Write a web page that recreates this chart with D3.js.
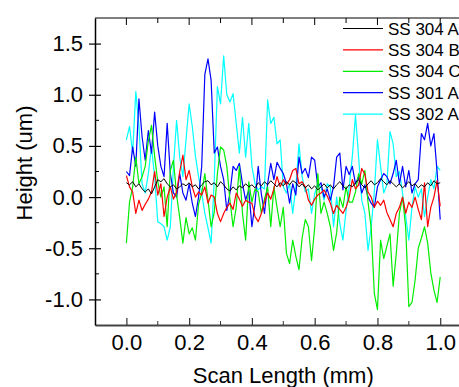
<!DOCTYPE html>
<html>
<head>
<meta charset="utf-8">
<script src="https://cdn.jsdelivr.net/npm/d3@7"></script>
<style>
  html, body { margin: 0; padding: 0; background: white; overflow: hidden; }
  svg { display: block; font-family: 'Liberation Sans', Arial, sans-serif; }
</style>
</head>
<body>
<script>
const seriesNames = ['SS 304 A', 'SS 304 B', 'SS 304 C', 'SS 301 A', 'SS 302 A'];
const seriesColors = ['#000000', '#ff0000', '#00ee00', '#0000ff', '#00ffff'];

// sample positions along the scan (mm), one every 0.01
const scanLength = d3.range(101).map((i) => i / 100);

const ss304A = [
  0.14, 0.12, 0.15, 0.10, 0.13, 0.08, 0.05, 0.08, 0.03, 0.10,
  0.17, 0.15, 0.18, 0.13, 0.10, 0.12, 0.08, 0.10, 0.13, 0.11,
  0.14, 0.10, 0.12, 0.08, 0.12, 0.15, 0.16, 0.12, 0.14, 0.10,
  0.15, 0.12, 0.08, 0.06, 0.10, 0.07, 0.11, 0.09, 0.13, 0.10,
  0.12, 0.09, 0.14, 0.11, 0.15, 0.12, 0.16, 0.13, 0.10, 0.14,
  0.11, 0.15, 0.12, 0.16, 0.14, 0.10, 0.13, 0.09, 0.12, 0.08,
  0.11, 0.07, 0.10, 0.13, 0.09, 0.12, 0.08, 0.12, 0.15, 0.11,
  0.08, 0.12, 0.10, 0.14, 0.17, 0.12, 0.09, 0.13, 0.16, 0.12,
  0.14, 0.18, 0.15, 0.12, 0.16, 0.13, 0.10, 0.13, 0.09, 0.12,
  0.15, 0.11, 0.13, 0.09, 0.12, 0.10, 0.14, 0.11, 0.16, 0.13,
  0.14,
];
const ss304B = [
  0.21, 0.10, 0.05, -0.16, -0.03, -0.13, -0.07, -0.02, 0.05, 0.25,
  0.02, 0.13, -0.19, 0.00, 0.10, -0.02, 0.05, 0.25, 0.41, 0.17,
  0.26, 0.10, 0.00, 0.05, 0.02, 0.10, -0.06, 0.02, 0.00, -0.16,
  -0.24, -0.16, -0.10, -0.06, -0.12, 0.04, -0.02, -0.09, -0.03, -0.05,
  -0.06, -0.19, -0.24, -0.16, -0.05, 0.04, -0.02, 0.08, 0.20, 0.10,
  0.17, 0.12, 0.17, 0.26, 0.28, 0.13, 0.15, 0.10, -0.03, -0.08,
  -0.02, 0.02, 0.04, 0.07, 0.01, -0.06, -0.16, -0.08, -0.12, -0.16,
  -0.10, 0.00, 0.17, 0.08, 0.12, 0.28, 0.22, 0.05, 0.00, -0.10,
  -0.04, -0.08, -0.03, -0.15, -0.22, -0.29, -0.16, -0.10, 0.00, -0.16,
  -0.05, -0.10, 0.00, -0.12, -0.22, 0.14, -0.29, -0.10, 0.00, 0.16,
  -0.09,
];
const ss304C = [
  -0.45, -0.05, 0.10, 0.39, 0.13, 0.20, 0.30, 0.55, 0.70, 0.40,
  0.15, 0.00, 0.10, -0.29, 0.26, 0.36, 0.02, -0.20, -0.45, -0.20,
  -0.36, -0.30, -0.42, -0.07, 0.04, 0.23, -0.03, -0.29, -0.15, 0.23,
  0.49, 0.46, 0.30, -0.03, -0.29, -0.10, 0.30, -0.16, -0.42, 0.15,
  -0.05, 0.08, 0.05, -0.16, -0.02, 0.10, -0.29, 0.10, -0.10, -0.29,
  -0.10, -0.55, -0.65, -0.42, -0.58, -0.71, -0.40, -0.22, -0.29, -0.62,
  -0.30, 0.23, -0.16, -0.05, -0.16, -0.29, -0.52, -0.35, 0.00, -0.10,
  0.10, -0.05, -0.05, 0.05, 0.23, 0.13, 0.26, -0.05, -0.30, -0.94,
  -1.10, -0.42, -0.60, -0.48, -0.36, -0.87, -0.55, -0.16, 0.00, -0.30,
  -1.07, -1.03, -0.81, -0.50, -0.40, -0.29, -0.45, -0.74, -0.91, -1.03,
  -0.78,
];
const ss301A = [
  0.25, 0.21, 0.49, 0.30, 0.96, 0.59, 0.36, 0.65, 0.43, 0.83,
  0.50, 0.30, 0.20, 0.72, 0.23, 0.04, 0.00, 0.23, 0.04, -0.03,
  0.13, -0.06, -0.19, 0.00, 0.30, 1.20, 1.35, 1.14, 0.43, 0.49,
  0.30, 0.17, -0.13, 0.04, 0.30, 0.26, 0.33, 0.13, -0.03, 0.07,
  -0.29, -0.06, 0.30, 0.03, -0.16, 0.13, 0.33, 0.17, 0.34, 0.28,
  0.23, 0.13, -0.06, 0.13, 0.02, 0.39, 0.23, 0.28, 0.19, 0.39,
  0.36, 0.10, 0.14, 0.00, 0.08, -0.03, 0.10, 0.39, 0.43, 0.07,
  0.30, 0.22, 0.30, 0.13, 0.20, 0.04, 0.12, 0.00, -0.06, -0.10,
  0.10, 0.17, 0.23, 0.20, 0.13, 0.23, 0.36, 0.13, 0.30, 0.10,
  0.26, 0.04, 0.13, 0.17, 0.62, 0.56, 0.72, 0.50, 0.62, 0.25,
  -0.22,
];
const ss302A = [
  0.56, 0.69, 0.43, 1.03, 0.70, 0.13, 0.04, 0.23, 0.49, 0.20,
  -0.24, -0.26, -0.29, -0.42, -0.29, 0.30, 0.75, 0.39, 0.20, 0.56,
  0.91, 0.69, 0.40, 0.20, 0.04, -0.16, -0.30, -0.45, 0.17, 1.08,
  0.91, 1.38, 1.00, 0.93, 1.01, 0.72, 0.43, 0.78, 0.39, 0.72,
  0.30, 0.13, 0.07, 0.10, 0.08, 0.95, 0.72, 0.78, 0.52, 0.56,
  0.10, 0.04, 0.13, -0.16, 0.10, 0.52, 0.20, 0.05, 0.08, -0.16,
  0.03, 0.13, 0.10, -0.03, 0.13, 0.10, -0.29, 0.00, -0.26, -0.42,
  -0.13, 0.10, 0.40, 0.80, 0.39, -0.03, -0.16, -0.52, -0.29, 0.05,
  0.56, 0.30, 0.04, 0.12, 0.64, 0.52, 0.20, 0.25, 0.04, -0.19,
  -0.42, -0.10, 0.10, 0.00, 0.08, -0.19, 0.00, 0.17, 0.08, 0.30,
  0.26,
];
const seriesValues = [ss304A, ss304B, ss304C, ss301A, ss302A];

const xMajorTicks = [0.0, 0.2, 0.4, 0.6, 0.8, 1.0];
const xMinorTicks = [0.1, 0.3, 0.5, 0.7, 0.9];
const yMajorTicks = [-1.0, -0.5, 0.0, 0.5, 1.0, 1.5];
const yMinorTicks = [-0.75, -0.25, 0.25, 0.75, 1.25];

const width = 459;
const height = 387;
const margin = { top: 18, left: 95, bottom: 62 };
const plotRight = 471.6;

const x = d3.scaleLinear().domain([-0.1, 1.1]).range([margin.left, plotRight]);
const y = d3.scaleLinear().domain([-1.25, 1.75]).range([height - margin.bottom, margin.top]);

const svg = d3.select('body').append('svg')
  .attr('width', width)
  .attr('height', height)
  .attr('viewBox', [0, 0, width, height]);

svg.append('rect')
  .attr('width', width)
  .attr('height', height)
  .attr('fill', 'white');

const line = d3.line()
  .x((d, i) => x(scanLength[i]))
  .y((d) => y(d));

// drawn back to front so the flat reference trace stays visible
svg.append('g')
  .attr('fill', 'none')
  .selectAll('path')
  .data(d3.range(seriesValues.length).reverse())
  .join('path')
  .attr('d', (k) => line(seriesValues[k]))
  .attr('stroke', (k) => seriesColors[k])
  .attr('stroke-width', (k) => k === 0 ? 1 : 1.2)
  .attr('stroke-linejoin', 'round');

// top frame line with inward ticks
svg.append('line')
  .attr('x1', margin.left)
  .attr('x2', plotRight)
  .attr('y1', margin.top)
  .attr('y2', margin.top)
  .attr('stroke', 'black')
  .attr('stroke-width', 1.2);

svg.append('g')
  .attr('stroke', 'black')
  .selectAll('line')
  .data(xMajorTicks.concat(xMinorTicks))
  .join('line')
  .attr('x1', (d) => x(d))
  .attr('x2', (d) => x(d))
  .attr('y1', margin.top)
  .attr('y2', (d) => margin.top + (xMajorTicks.includes(d) ? 7 : 5));

// bottom axis
const xAxis = svg.append('g')
  .attr('transform', `translate(0,${y.range()[0]})`)
  .call(d3.axisBottom(x).tickValues(xMajorTicks).tickSize(-7).tickSizeOuter(0).tickPadding(9)
    .tickFormat(d3.format('.1f')));

xAxis.select('.domain').attr('stroke', '#444').attr('stroke-width', 2);
xAxis.selectAll('.tick line').attr('stroke', '#333').attr('stroke-width', 1.2);
xAxis.selectAll('text').attr('font-size', 22).attr('fill', 'black')
  .attr('font-family', "'Liberation Sans', Arial, sans-serif");

svg.append('g')
  .attr('stroke', '#333')
  .selectAll('line')
  .data(xMinorTicks)
  .join('line')
  .attr('x1', (d) => x(d))
  .attr('x2', (d) => x(d))
  .attr('y1', y.range()[0])
  .attr('y2', y.range()[0] - 4);

// left axis: major ticks cross the line, minor ticks point inward
const yAxis = svg.append('g')
  .attr('transform', `translate(${margin.left},0)`)
  .call(d3.axisLeft(y).tickValues(yMajorTicks).tickSize(6).tickSizeOuter(0).tickPadding(6)
    .tickFormat(d3.format('.1f')));

yAxis.select('.domain').attr('stroke', 'black').attr('stroke-width', 1.5);
yAxis.selectAll('.tick line').attr('x1', 6).attr('stroke', 'black').attr('stroke-width', 1.2);
yAxis.selectAll('text').attr('font-size', 22).attr('fill', 'black')
  .attr('font-family', "'Liberation Sans', Arial, sans-serif")
  .text((d) => d3.format('.1f')(d).replace('−', '-'));

svg.append('g')
  .attr('stroke', 'black')
  .selectAll('line')
  .data(yMinorTicks)
  .join('line')
  .attr('x1', margin.left)
  .attr('x2', margin.left + 4)
  .attr('y1', (d) => y(d))
  .attr('y2', (d) => y(d));

// axis titles
svg.append('text')
  .attr('x', (margin.left + plotRight) / 2)
  .attr('y', 383)
  .attr('text-anchor', 'middle')
  .attr('font-size', 22)
  .text('Scan Length (mm)');

svg.append('text')
  .attr('transform', `translate(31.5,163) rotate(-90)`)
  .attr('text-anchor', 'middle')
  .attr('font-size', 22)
  .text('Height (um)');

// legend
const legend = svg.append('g')
  .selectAll('g')
  .data(seriesNames)
  .join('g')
  .attr('transform', (d, i) => `translate(343,${28.5 + i * 21.4})`);

legend.append('line')
  .attr('x1', 0)
  .attr('x2', 40)
  .attr('stroke', (d, i) => seriesColors[i])
  .attr('stroke-width', (d, i) => i === 0 ? 1 : 1.3);

legend.append('text')
  .attr('x', 45)
  .attr('dy', '0.36em')
  .attr('font-size', 17)
  .text((d) => d);
</script>
</body>
</html>
